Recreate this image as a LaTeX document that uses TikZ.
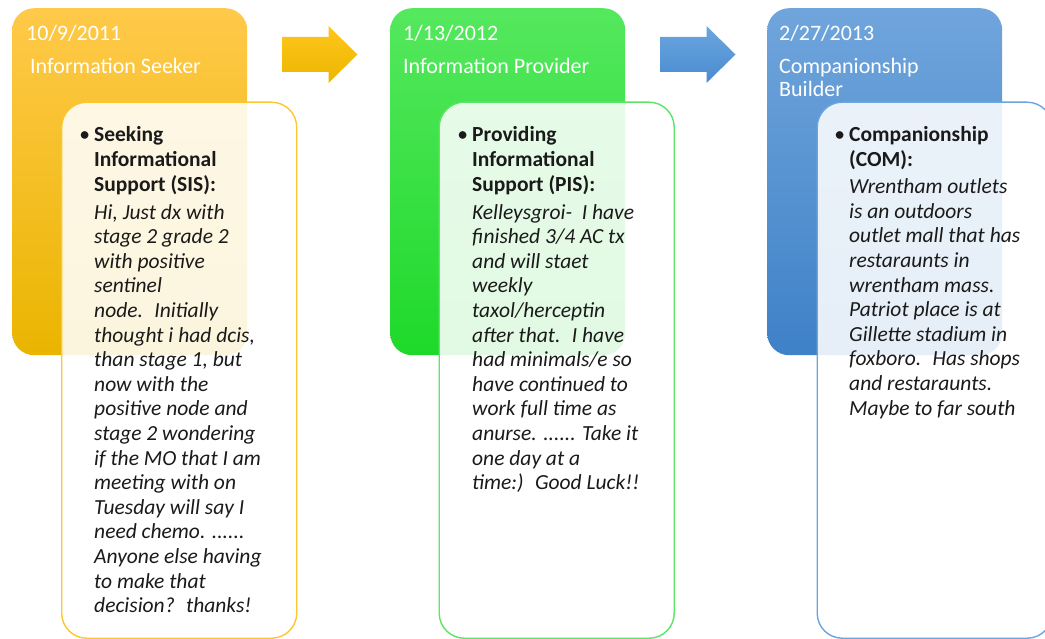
\documentclass[tikz,border=0pt]{standalone}
\usepackage{fontspec}
\setmainfont{Carlito}
\definecolor{orgTop}{HTML}{FFC94A}
\definecolor{orgBot}{HTML}{EAB500}
\definecolor{orgLine}{HTML}{FFC72E}
\definecolor{grnTop}{HTML}{55E85E}
\definecolor{grnBot}{HTML}{1ED92A}
\definecolor{grnLine}{HTML}{5EE466}
\definecolor{bluTop}{HTML}{70A5DC}
\definecolor{bluBot}{HTML}{3E81C7}
\definecolor{bluLine}{HTML}{6CA5DD}
\definecolor{arrOTop}{HTML}{FFC61C}
\definecolor{arrOBot}{HTML}{EBB600}
\definecolor{arrBTop}{HTML}{6BA6DF}
\definecolor{arrBBot}{HTML}{4A8BCF}
\definecolor{ink}{HTML}{1A1A1A}
\newcommand{\bulletmark}{\leavevmode\llap{\textbullet\hspace{4pt}}}
\begin{document}
\begin{tikzpicture}[x=1pt,y=-1pt,
  card/.style={rounded corners=22pt, draw=none, inner sep=0pt, anchor=north west,
    minimum width=235pt, minimum height=347pt},
  panel/.style={rounded corners=25pt, line width=1.4pt, fill=white, fill opacity=0.87,
    inner sep=0pt, anchor=north west, minimum width=235pt, minimum height=536pt},
  hdr/.style={anchor=base west, inner sep=0pt, text=white,
    font=\fontsize{22}{23}\selectfont},
  body/.style={anchor=base west, inner sep=0pt, text=ink,
    font=\fontsize{21.5}{24.6}\selectfont},
  blockarrow/.style={draw=none}
]
\useasboundingbox (0,0) rectangle (1045,639);
\clip (0,0) rectangle (1045,639);

% stage cards
\node[card, top color=orgTop, bottom color=orgBot] (c1) at (12,8) {};
\node[card, top color=grnTop, bottom color=grnBot] (c2) at (390,8) {};
\node[card, top color=bluTop, bottom color=bluBot] (c3) at (767,8) {};

% card headings
\node[hdr] (d1) at (26,41) {10/9/2011};
\node[hdr] (h1) at (30,73.5) {Information Seeker};
\node[hdr] (d2) at (403,41) {1/13/2012};
\node[hdr] (h2) at (403,73.5) {Information Provider};
\node[hdr] (d3) at (779,41) {2/27/2013};
\node[hdr, font=\fontsize{22}{23.3}\selectfont] (h3) at (779,73.5)
  {\parbox[t]{210pt}{Companionship\\Builder}};

% block arrows between the cards
\coordinate (a1) at (282,54.5);
\coordinate (a2) at (660,54.5);
\foreach \a/\ct/\cb in {a1/arrOTop/arrOBot, a2/arrBTop/arrBBot}{
  \shade[blockarrow, top color=\ct, bottom color=\cb]
    (\a) ++(0,-17.5) -- ++(46.5,0) -- ++(0,-11) -- ++(29,28.5)
    -- ++(-29,28.5) -- ++(0,-11) -- ++(-46.5,0) -- cycle;
}

% message panels
\node[panel, draw=orgLine] (p1) at (61,101.5) {};
\node[panel, draw=grnLine] (p2) at (438.5,101.5) {};
\node[panel, draw=bluLine] (p3) at (816.5,101.5) {};

% panel texts
\node[body] (t1) at (94,142) {\parbox[t]{200pt}{%
\bulletmark\textbf{Seeking}\\
\textbf{Informational}\\
\textbf{Support (SIS):}\\[3.4pt]
\itshape Hi, Just dx with\\
stage 2 grade 2\\
with positive\\
sentinel\\
node.~ Initially\\
thought i had dcis,\\
than stage 1, but\\
now with the\\
positive node and\\
stage 2 wondering\\
if the MO that I am\\
meeting with on\\
Tuesday will say I\\
need chemo. ......\\
Anyone else having\\
to make that\\
decision?~ thanks!}};

\node[body] (t2) at (472,142) {\parbox[t]{200pt}{%
\bulletmark\textbf{Providing}\\
\textbf{Informational}\\
\textbf{Support (PIS):}\\[3.4pt]
\itshape Kelleysgroi-~ I have\\
finished 3/4 AC tx\\
and will staet\\
weekly\\
taxol/herceptin\\
after that.~ I have\\
had minimals/e so\\
have continued to\\
work full time as\\
anurse. ...... Take it\\
one day at a\\
time:)~ Good Luck!!}};

\node[body] (t3) at (849,142) {\parbox[t]{200pt}{%
\bulletmark\textbf{Companionship}\\
\textbf{(COM):}\\[2.6pt]
\itshape Wrentham outlets\\
is an outdoors\\
outlet mall that has\\
restaraunts in\\
wrentham mass.\\
Patriot place is at\\
Gillette stadium in\\
foxboro.~ Has shops\\
and restaraunts.\\
Maybe to far south}};
\end{tikzpicture}
\end{document}
